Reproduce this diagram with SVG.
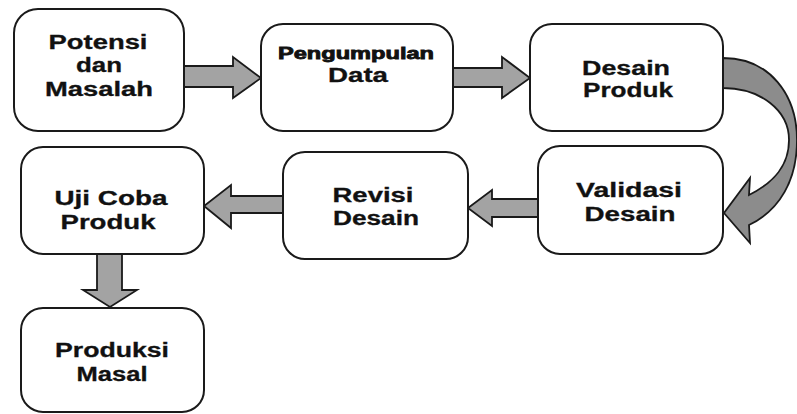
<svg xmlns="http://www.w3.org/2000/svg" width="797" height="414" viewBox="0 0 797 414">
<style>
.box{fill:#fff;stroke:#1a1a1a;stroke-width:2}
.arr{fill:#a3a3a3;stroke:#1a1a1a;stroke-width:1.8;stroke-linejoin:miter}
.curve{fill:#8c8c8c;stroke:#1a1a1a;stroke-width:1.8}
text{font-family:"Liberation Sans",Arial,sans-serif;font-weight:bold;font-size:20px;fill:#111;stroke:#111;stroke-width:0.3;text-anchor:middle}
.sm{font-size:16px;stroke-width:0.8}
</style>
<rect width="797" height="414" fill="#fff"/>
<g id="connectors">
<polygon class="arr" points="184,66 233,66 233,57 261,78 233,98 233,87 184,87"/>
<polygon class="arr" points="453,68 502,68 502,57 530,78 502,98 502,87 453,87"/>
<path class="curve" d="M723,58 C770,58 797,95 797,140 C797,180 780,210 749,225 L750,243 L724,213 L750,178 L749,195 C775,182 789,165 789,140 C789,110 760,88 723,88 Z"/>
<polygon class="arr" points="538,199 492,199 492,190 468,208 492,226 492,217 538,217"/>
<polygon class="arr" points="283,196 231,196 231,185 204,206 231,228 231,213 283,213"/>
<polygon class="arr" points="97,254 122,254 122,290 137,290 110,307 83,290 97,290"/>
</g>
<g id="n1"><rect class="box" x="14" y="9" width="170" height="122" rx="24"/>
<text x="98" y="49" textLength="99" lengthAdjust="spacingAndGlyphs">Potensi</text>
<text x="99" y="72" textLength="46" lengthAdjust="spacingAndGlyphs">dan</text>
<text x="99" y="96" textLength="108" lengthAdjust="spacingAndGlyphs">Masalah</text></g>
<g id="n2"><rect class="box" x="261" y="24" width="192" height="107" rx="22"/>
<text class="sm" x="356" y="59" textLength="156" lengthAdjust="spacingAndGlyphs">Pengumpulan</text>
<text x="358" y="82" textLength="60" lengthAdjust="spacingAndGlyphs">Data</text></g>
<g id="n3"><rect class="box" x="530" y="24" width="193" height="107" rx="22"/>
<text x="626" y="75" textLength="88" lengthAdjust="spacingAndGlyphs">Desain</text>
<text x="628" y="97" textLength="90" lengthAdjust="spacingAndGlyphs">Produk</text></g>
<g id="n4"><rect class="box" x="538" y="146" width="185" height="108" rx="22"/>
<text x="629" y="197" textLength="106" lengthAdjust="spacingAndGlyphs">Validasi</text>
<text x="630" y="221" textLength="91" lengthAdjust="spacingAndGlyphs">Desain</text></g>
<g id="n5"><rect class="box" x="283" y="152" width="185" height="107" rx="22"/>
<text x="373" y="202" textLength="81" lengthAdjust="spacingAndGlyphs">Revisi</text>
<text x="376" y="225" textLength="86" lengthAdjust="spacingAndGlyphs">Desain</text></g>
<g id="n6"><rect class="box" x="21" y="147" width="183" height="107" rx="22"/>
<text x="111" y="205" textLength="113" lengthAdjust="spacingAndGlyphs">Uji Coba</text>
<text x="108" y="229" textLength="95" lengthAdjust="spacingAndGlyphs">Produk</text></g>
<g id="n7"><rect class="box" x="21" y="308" width="183" height="104" rx="22"/>
<text x="112" y="357" textLength="114" lengthAdjust="spacingAndGlyphs">Produksi</text>
<text x="112" y="381" textLength="71" lengthAdjust="spacingAndGlyphs">Masal</text></g>
</svg>
